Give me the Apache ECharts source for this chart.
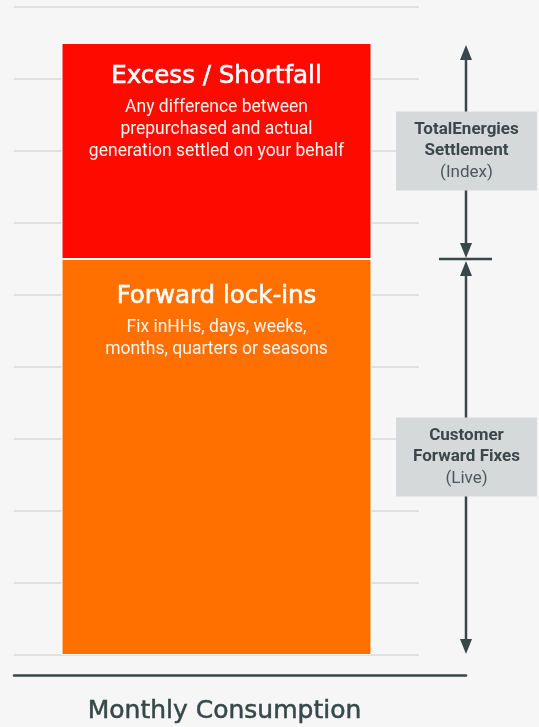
<!DOCTYPE html>
<html>
<head>
<meta charset="utf-8">
<script src="https://cdn.jsdelivr.net/npm/echarts@6/dist/echarts.min.js"></script>
<style>
  html, body { margin: 0; padding: 0; background: #f5f6f5; }
  #chart { width: 539px; height: 727px; }
</style>
</head>
<body>
<div id="chart"></div>
<script>
// ---- data ----
const categories = ['Monthly Consumption'];
const forwardValues = [5.5];
const excessValues = [3];
const yMin = 0, yMax = 9, yInterval = 1;
const barTitles = ['Forward lock-ins', 'Excess / Shortfall'];
const forwardNotes = ['Fix inHHs, days, weeks,', 'months, quarters or seasons'];
const excessNotes = ['Any difference between', 'prepurchased and actual', 'generation settled on your behalf'];
const bracketTitles = [['Customer', 'Forward Fixes'], ['TotalEnergies', 'Settlement']];
const bracketNotes = ['(Live)', '(Index)'];

// brackets built from stacked values: [low, high, index]
const bracketData = [
  [0, forwardValues[0], 0],
  [forwardValues[0], forwardValues[0] + excessValues[0], 1]
];

const DARK = '#37474a';
const TITLE_FONT = '"DejaVu Sans"';
const chart = echarts.init(document.getElementById('chart'), null, { renderer: 'canvas' });

function barLabel(title, notes, dist) {
  return {
    show: true,
    position: 'insideTop',
    distance: dist,
    formatter: '{t|' + title + '}\n' + notes.map(n => '{s|' + n + '}').join('\n'),
    rich: {
      t: { fontFamily: TITLE_FONT, fontWeight: 'normal', fontSize: 24.5, color: '#ffffff', lineHeight: 40, align: 'center',
           textBorderColor: '#ffffff', textBorderWidth: 0.6 },
      s: { fontFamily: 'Roboto', fontSize: 17.5, color: '#fff4ee', lineHeight: 22, align: 'center' }
    }
  };
}

function renderBracket(params, api) {
  const lo = api.coord([1, api.value(0)]);
  const hi = api.coord([1, api.value(1)]);
  const idx = api.value(2);
  const x = lo[0];
  const yt = hi[1] + 2;
  const yb = lo[1] - 1;
  const ah = 15, aw = 6;
  const mid = (lo[1] + hi[1]) / 2;
  const children = [
    { type: 'line', shape: { x1: x, y1: yt + ah - 2, x2: x, y2: yb - ah + 2 }, style: { stroke: DARK, lineWidth: 2.5 } },
    { type: 'polygon', shape: { points: [[x, yt], [x - aw, yt + ah], [x + aw, yt + ah]] }, style: { fill: DARK } },
    { type: 'polygon', shape: { points: [[x, yb], [x - aw, yb - ah], [x + aw, yb - ah]] }, style: { fill: DARK } }
  ];
  if (idx === 1) {
    children.push({ type: 'line', shape: { x1: x - 27, y1: lo[1], x2: x + 26, y2: lo[1] }, style: { stroke: DARK, lineWidth: 2.5 } });
  }
  children.push({ type: 'rect', shape: { x: x - 70, y: mid - 39.5, width: 141, height: 79 }, style: { fill: '#d6d9da' } });
  const t = bracketTitles[idx];
  children.push({ type: 'text', x: x + 0.5, y: mid - 21, style: { text: t[0], font: 'bold 17px Roboto', fill: '#3b4749', align: 'center', verticalAlign: 'middle' } });
  children.push({ type: 'text', x: x + 0.5, y: mid, style: { text: t[1], font: 'bold 17px Roboto', fill: '#3b4749', align: 'center', verticalAlign: 'middle' } });
  children.push({ type: 'text', x: x + 0.5, y: mid + 22, style: { text: bracketNotes[idx], font: '17px Roboto', fill: '#4d585a', align: 'center', verticalAlign: 'middle' } });
  return { type: 'group', children: children };
}

const option = {
  backgroundColor: '#f5f6f5',
  animation: false,
  grid: [
    { left: 14, right: 120, top: 7, bottom: 72, containLabel: false },
    { left: 14, right: 73, top: 7, bottom: 72, containLabel: false }
  ],
  xAxis: [
    {
      type: 'category', gridIndex: 0, data: categories,
      axisLine: { show: false }, axisTick: { show: false },
      axisLabel: {
        margin: 42, fontFamily: TITLE_FONT, fontWeight: 'normal', fontSize: 25, color: DARK,
        lineHeight: 28, padding: [0, 0, 0, 16], textBorderColor: DARK, textBorderWidth: 0.5
      }
    },
    {
      type: 'value', gridIndex: 1, min: 0, max: 1, offset: 20,
      axisLine: { show: true, onZero: false, lineStyle: { color: DARK, width: 2.5 } },
      axisTick: { show: false }, axisLabel: { show: false }, splitLine: { show: false }
    }
  ],
  yAxis: [
    {
      type: 'value', gridIndex: 0, min: yMin, max: yMax, interval: yInterval,
      axisLine: { show: false }, axisTick: { show: false }, axisLabel: { show: false },
      splitLine: { show: true, lineStyle: { color: '#dfe0df', width: 2 } }
    },
    {
      type: 'value', gridIndex: 1, min: yMin, max: yMax, interval: yInterval,
      axisLine: { show: false }, axisTick: { show: false }, axisLabel: { show: false },
      splitLine: { show: false }
    }
  ],
  series: [
    {
      type: 'bar', name: barTitles[0], stack: 'total', xAxisIndex: 0, yAxisIndex: 0,
      data: forwardValues, barWidth: 310,
      itemStyle: { color: '#ff7000', borderColor: '#ffffff', borderWidth: 1 },
      label: barLabel(barTitles[0], forwardNotes, 18), silent: true
    },
    {
      type: 'bar', name: barTitles[1], stack: 'total', xAxisIndex: 0, yAxisIndex: 0,
      data: excessValues, barWidth: 310,
      itemStyle: { color: '#ff0a00', borderColor: '#ffffff', borderWidth: 1 },
      label: barLabel(barTitles[1], excessNotes, 14), silent: true
    },
    {
      type: 'custom', xAxisIndex: 1, yAxisIndex: 1, clip: false, silent: true,
      renderItem: renderBracket, data: bracketData, z: 5
    }
  ]
};
chart.setOption(option);
</script>
</body>
</html>
